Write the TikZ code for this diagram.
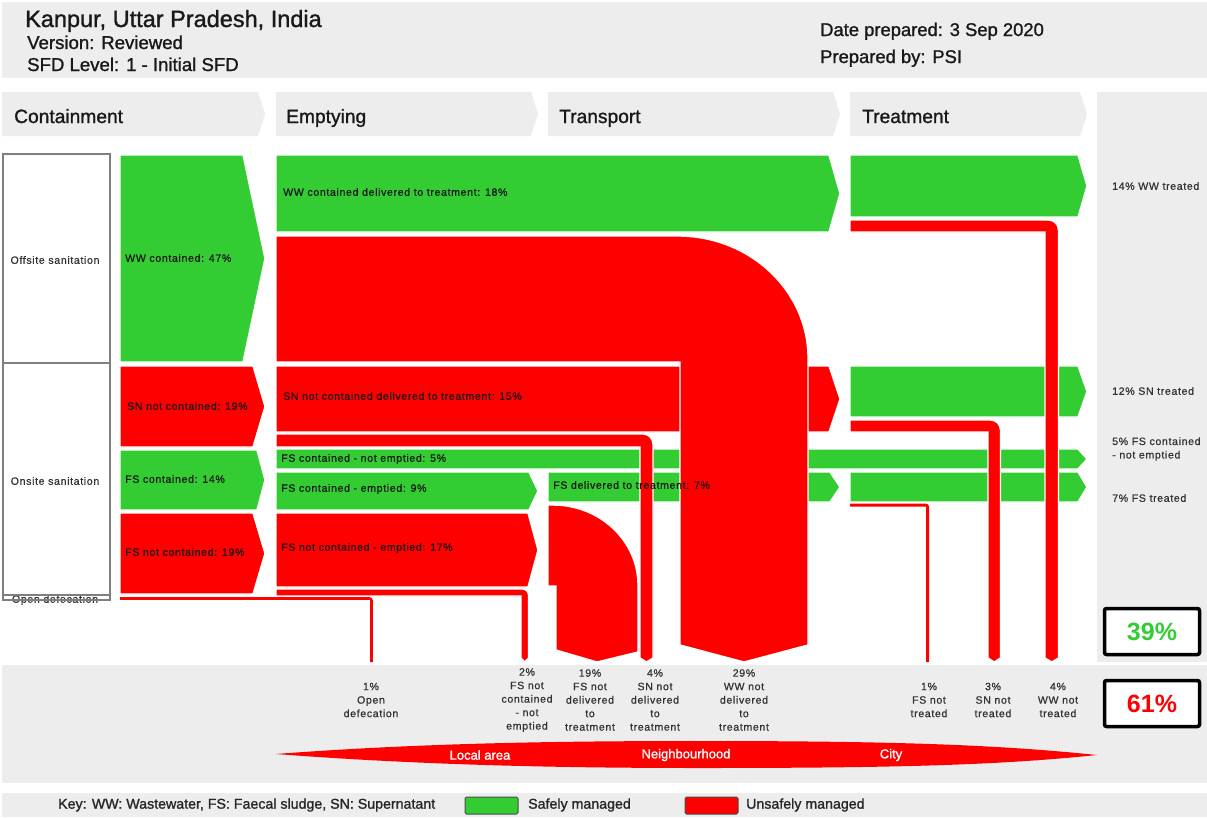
\documentclass[tikz,border=0pt]{standalone}
\usepackage{fontspec}
\setmainfont{Liberation Sans}
\newfontfamily\heavyfam[FakeBold=1.2]{Liberation Sans}
\newfontfamily\smallfam[LetterSpace=6,FakeBold=0.7]{Liberation Sans}
\definecolor{safegreen}{HTML}{33CC33}
\definecolor{unsafered}{HTML}{FF0000}
\definecolor{panelgrey}{HTML}{EDEDED}
\definecolor{boxgrey}{HTML}{7F7F7F}
\definecolor{inkgrey}{HTML}{333333}

% right-pointing flow arrow: style, x left, x body end, x tip, y top, y bottom
\newcommand{\sfdarrow}[6]{%
  \path[#1] (#2,#5) -- (#3,#5) -- (#4,{(#5+#6)/2}) -- (#3,#6) -- (#2,#6) -- cycle;}
% horizontal band turning down to the bottom strip:
% style, x left, y top, y bottom, x vertical left, x vertical right, corner radius
\newcommand{\sfddrop}[7]{%
  \path[#1] (#2,#3) -- ({#6-#7},#3) .. controls ({#6-0.45*#7},#3) and (#6,{#3+0.45*#7}) .. (#6,{#3+#7})
    -- (#6,658) -- ({(#5+#6)/2},662) -- (#5,658) -- (#5,#4) -- (#2,#4) -- cycle;}

\tikzset{
  panel/.style={fill=panelgrey},
  safeflow/.style={fill=safegreen, draw=white, line width=1.4},
  unsafeflow/.style={fill=unsafered, draw=white, line width=1.4},
  unsafeline/.style={draw=unsafered},
  boxline/.style={draw=boxgrey, line width=1.6},
  flowlabel/.style={anchor=west, inner sep=0, text=black!90, font=\smallfam\fontsize{10.6}{13}\selectfont},
  sidelabel/.style={anchor=center, inner sep=0, align=center, text=inkgrey, font=\smallfam\fontsize{10.6}{13}\selectfont},
  outlabel/.style={anchor=center, inner sep=0, align=center, text=inkgrey, font=\smallfam\fontsize{10.6}{13.5}\selectfont},
  stagelabel/.style={anchor=base west, inner sep=0, text=black!90, font=\heavyfam\fontsize{19.2}{22}\selectfont},
  headlabel/.style={anchor=base west, inner sep=0, text=black!90, font=\heavyfam\fontsize{18.4}{22}\selectfont},
  zonelabel/.style={anchor=center, inner sep=0, text=white, font=\heavyfam\fontsize{13}{15}\selectfont},
  keylabel/.style={anchor=west, inner sep=0, text=black!85, font=\heavyfam\fontsize{14.2}{16}\selectfont},
  totalbox/.style={draw=black, line width=3.5, rounded corners=2, fill=white,
    minimum width=95, minimum height=46, inner sep=0, font=\bfseries\fontsize{25}{30}\selectfont},
}

\begin{document}
\begin{tikzpicture}[x=1pt, y=-1pt]
\useasboundingbox (0,0) rectangle (1207,817);
\fill[white] (0,0) rectangle (1207,817);

% ---------- panels ----------
\fill[panel] (2,2) rectangle (1207,78);
\sfdarrow{panel}{2}{258}{265}{92}{136}
\sfdarrow{panel}{276}{531}{538}{92}{136}
\sfdarrow{panel}{548}{833}{840}{92}{136}
\sfdarrow{panel}{850}{1080}{1087}{92}{136}
\fill[panel] (1097,92) rectangle (1207,662);
\fill[panel] (2,665) rectangle (1207,783);
\fill[panel] (2,793) rectangle (1207,817);

% ---------- header ----------
\node[headlabel, font=\heavyfam\fontsize{23.5}{26}\selectfont] (city) at (25,27) {Kanpur, Uttar Pradesh, India};
\node[headlabel, font=\heavyfam\fontsize{18.6}{21}\selectfont] (version) at (27,49) {Version: Reviewed};
\node[headlabel, font=\heavyfam\fontsize{18.6}{21}\selectfont] (level) at (27,71) {SFD Level: 1 - Initial SFD};
\node[headlabel] (date) at (820,36) {Date prepared: 3 Sep 2020};
\node[headlabel] (author) at (820,63) {Prepared by: PSI};

\node[stagelabel] (containment) at (14,123) {Containment};
\node[stagelabel] (emptying) at (286,123) {Emptying};
\node[stagelabel] (transport) at (559,123) {Transport};
\node[stagelabel] (treatment) at (862,123) {Treatment};

% ---------- sanitation type boxes ----------
\draw[boxline, fill=white] (3,154) rectangle (110,363);
\draw[boxline, fill=white] (3,363) rectangle (110,595);
\node[sidelabel] (offsite) at (55,260) {Offsite sanitation};
\node[sidelabel] (onsite) at (55,481) {Onsite sanitation};
\node[sidelabel] (opendef) at (55,600) {Open defecation};
\draw[boxline, line width=1.2] (3,595) rectangle (110,600);

% ---------- containment ----------
\sfdarrow{safeflow}{120}{243}{265}{155}{362}
\sfdarrow{unsafeflow}{120}{253}{265}{366}{447}
\sfdarrow{safeflow}{120}{257}{265}{450}{510}
\sfdarrow{unsafeflow}{120}{253}{265}{513}{594}
\draw[unsafeline, line width=2.6, rounded corners=2] (120,598.5) -| (371.5,662);

% ---------- emptying and transport ----------
\sfdarrow{safeflow}{276}{829}{840}{155}{232}
\sfdarrow{unsafeflow}{276}{829}{840}{366}{432}
\sfdarrow{safeflow}{276}{1078}{1087}{449}{469}
\sfdarrow{safeflow}{276}{529}{538}{472}{510}
\sfdarrow{safeflow}{548}{830}{840}{472}{502}
\sfdarrow{unsafeflow}{276}{528}{538}{513}{587}

% ---------- treatment ----------
\sfdarrow{safeflow}{850}{1078}{1087}{155}{217}
\sfdarrow{safeflow}{850}{1078}{1087}{366}{417}
\sfdarrow{safeflow}{850}{1078}{1087}{472}{502}

% ---------- flows leaving the chain ----------
\draw[unsafeline, line width=3, rounded corners=2] (850,505) -| (927.5,662);
\sfddrop{unsafeflow}{276}{589}{596}{521}{528.5}{6}
\sfddrop{unsafeflow}{276}{434}{447}{640}{653}{10}
\sfddrop{unsafeflow}{850}{420}{432}{988}{1000.5}{10}
\sfddrop{unsafeflow}{850}{220}{232}{1045}{1058.5}{10}
% faecal sludge not delivered
\path[unsafeflow] (548,505) -- (553,505) .. controls (600,505) and (638,541) .. (638,585)
  -- (638,652) -- (597,662) -- (556,650) -- (556,586) -- (548,586) -- cycle;
% wastewater not delivered
\path[unsafeflow] (276,236) -- (678,236) .. controls (750,236) and (808,291) .. (808,358)
  -- (808,645) -- (744,662) -- (680,645) -- (680,362) -- (276,362) -- cycle;

% ---------- flow labels ----------
\node[flowlabel] (wwcont) at (125,258) {WW contained: 47\%};
\node[flowlabel] (sncont) at (127,406) {SN not contained: 19\%};
\node[flowlabel] (fscont) at (125,479) {FS contained: 14\%};
\node[flowlabel] (fsnotcont) at (125,552) {FS not contained: 19\%};
\node[flowlabel] (wwdel) at (283,192) {WW contained delivered to treatment: 18\%};
\node[flowlabel] (sndel) at (283,396) {SN not contained delivered to treatment: 15\%};
\node[flowlabel] (fsnotemp) at (281,459) {FS contained - not emptied: 5\%};
\node[flowlabel] (fsemp) at (281,489) {FS contained - emptied: 9\%};
\node[flowlabel] (fsncemp) at (281,548) {FS not contained - emptied: 17\%};
\node[flowlabel] (fsdel) at (553,485) {FS delivered to treatment: 7\%};

% ---------- outcome labels ----------
\node[outlabel, anchor=west, align=left] (wwtr) at (1112,186) {14\% WW treated};
\node[outlabel, anchor=west, align=left] (sntr) at (1112,391) {12\% SN treated};
\node[outlabel, anchor=west, align=left] (fsne) at (1112,449) {5\% FS contained\\- not emptied};
\node[outlabel, anchor=west, align=left] (fstr) at (1112,498) {7\% FS treated};

\node[totalbox, text=safegreen] (safetotal) at (1152,631.5) {39\%};
\node[totalbox, text=unsafered] (unsafetotal) at (1152,703.5) {61\%};

\node[outlabel] (odout) at (371,700) {1\%\\Open\\defecation};
\node[outlabel] (fsncout) at (527,700) {2\%\\FS not\\contained\\- not\\emptied};
\node[outlabel] (fsndout) at (590,700) {19\%\\FS not\\delivered\\to\\treatment};
\node[outlabel] (snndout) at (655,700) {4\%\\SN not\\delivered\\to\\treatment};
\node[outlabel] (wwndout) at (744,700) {29\%\\WW not\\delivered\\to\\treatment};
\node[outlabel] (fsntout) at (929,700) {1\%\\FS not\\treated};
\node[outlabel] (snntout) at (993,700) {3\%\\SN not\\treated};
\node[outlabel] (wwntout) at (1058,700) {4\%\\WW not\\treated};

% ---------- extent of exposure ----------
\path[fill=unsafered] (276,754) .. controls (420,743) and (560,741) .. (700,741)
  .. controls (900,741) and (1000,745) .. (1097,755)
  .. controls (1000,765) and (900,768) .. (700,768)
  .. controls (560,768) and (420,765) .. (276,754) -- cycle;
\node[zonelabel] (local) at (480,755) {Local area};
\node[zonelabel] (neigh) at (686,755) {Neighbourhood};
\node[zonelabel] (cityzone) at (891,755) {City};

% ---------- key ----------
\node[keylabel] (key) at (58,805) {Key: WW: Wastewater, FS: Faecal sludge, SN: Supernatant};
\draw[fill=safegreen, draw=black!70, line width=1, rounded corners=1.5] (465,797) rectangle (518,814);
\node[keylabel] (safekey) at (528,805) {Safely managed};
\draw[fill=unsafered, draw=black!70, line width=1, rounded corners=1.5] (685,797) rectangle (738,814);
\node[keylabel] (unsafekey) at (746,805) {Unsafely managed};
\end{tikzpicture}
\end{document}
